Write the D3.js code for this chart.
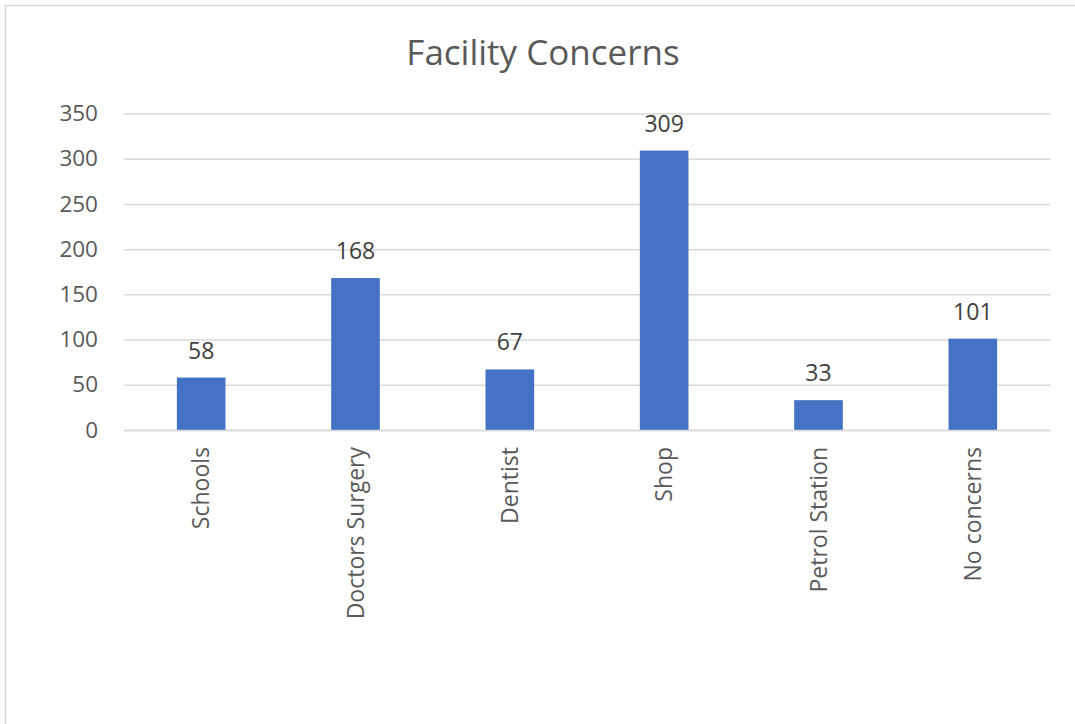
<!DOCTYPE html>
<html>
<head>
<meta charset="utf-8">
<script src="https://cdn.jsdelivr.net/npm/d3@7"></script>
<style>
  body { margin: 0; background: #fff; }
  svg { display: block; font-family: "Open Sans", "Liberation Sans", sans-serif; }
</style>
</head>
<body>
<svg id="chart" width="1075" height="724"></svg>
<script>
const categories = ["Schools", "Doctors Surgery", "Dentist", "Shop", "Petrol Station", "No concerns"];
const values = [58, 168, 67, 309, 33, 101];
const yTicks = [0, 50, 100, 150, 200, 250, 300, 350];
const title = "Facility Concerns";

const margin = { top: 113.5, right: 25, bottom: 294, left: 124 };
const width = 1075 - margin.left - margin.right;
const height = 724 - margin.top - margin.bottom;

const root = d3.select("#chart");

// outer chart frame
root.append("rect")
    .attr("x", 5.5).attr("y", 5.5)
    .attr("width", 1080).attr("height", 730)
    .attr("fill", "#fff")
    .attr("stroke", "#d9d9d9")
    .attr("stroke-width", 1.5);

root.append("text")
    .attr("x", 543)
    .attr("y", 65)
    .attr("text-anchor", "middle")
    .attr("font-size", 35)
    .attr("fill", "#595959")
    .text(title);

const svg = root.append("g")
    .attr("transform", `translate(${margin.left},${margin.top})`);

const x = d3.scaleBand()
    .domain(categories)
    .range([0, width])
    .paddingInner(0.685)
    .paddingOuter(0.3425);

const y = d3.scaleLinear()
    .domain([0, 350])
    .range([height, 0]);

// gridlines
svg.append("g")
    .attr("class", "grid")
    .call(d3.axisLeft(y).tickValues(yTicks).tickSize(-width).tickFormat(""))
    .call(g => g.select(".domain").remove())
    .call(g => g.selectAll("line").attr("stroke", "#d9d9d9").attr("stroke-width", 1.5));

// y labels
svg.append("g")
    .call(d3.axisLeft(y).tickValues(yTicks).tickSize(0).tickPadding(26))
    .call(g => g.select(".domain").remove())
    .call(g => g.selectAll("text")
        .attr("font-size", 22.5)
        .attr("fill", "#595959")
        .attr("font-family", "Open Sans, Liberation Sans, sans-serif"));

svg.selectAll(".bar")
    .data(values)
    .join("rect")
    .attr("class", "bar")
    .attr("x", (d, i) => x(categories[i]))
    .attr("y", d => y(d))
    .attr("width", x.bandwidth())
    .attr("height", d => height - y(d))
    .attr("fill", "#4472c4");

// data labels
svg.selectAll(".label")
    .data(values)
    .join("text")
    .attr("class", "label")
    .attr("x", (d, i) => x(categories[i]) + x.bandwidth() / 2)
    .attr("y", d => y(d) - 19)
    .attr("text-anchor", "middle")
    .attr("font-size", 23)
    .attr("fill", "#404040")
    .text(d => d);

// x axis
svg.append("g")
    .attr("transform", `translate(0,${height})`)
    .call(d3.axisBottom(x).tickSize(0).tickPadding(0))
    .call(g => g.select(".domain").attr("stroke", "#d9d9d9").attr("stroke-width", 1.5))
    .call(g => g.selectAll("text")
        .attr("font-size", 23)
        .attr("fill", "#595959")
        .attr("font-family", "Open Sans, Liberation Sans, sans-serif")
        .attr("text-anchor", "end")
        .attr("dy", "0.35em")
        .attr("transform", "translate(0,17) rotate(-90)")
        .attr("x", 0).attr("y", 0));
</script>
</body>
</html>
